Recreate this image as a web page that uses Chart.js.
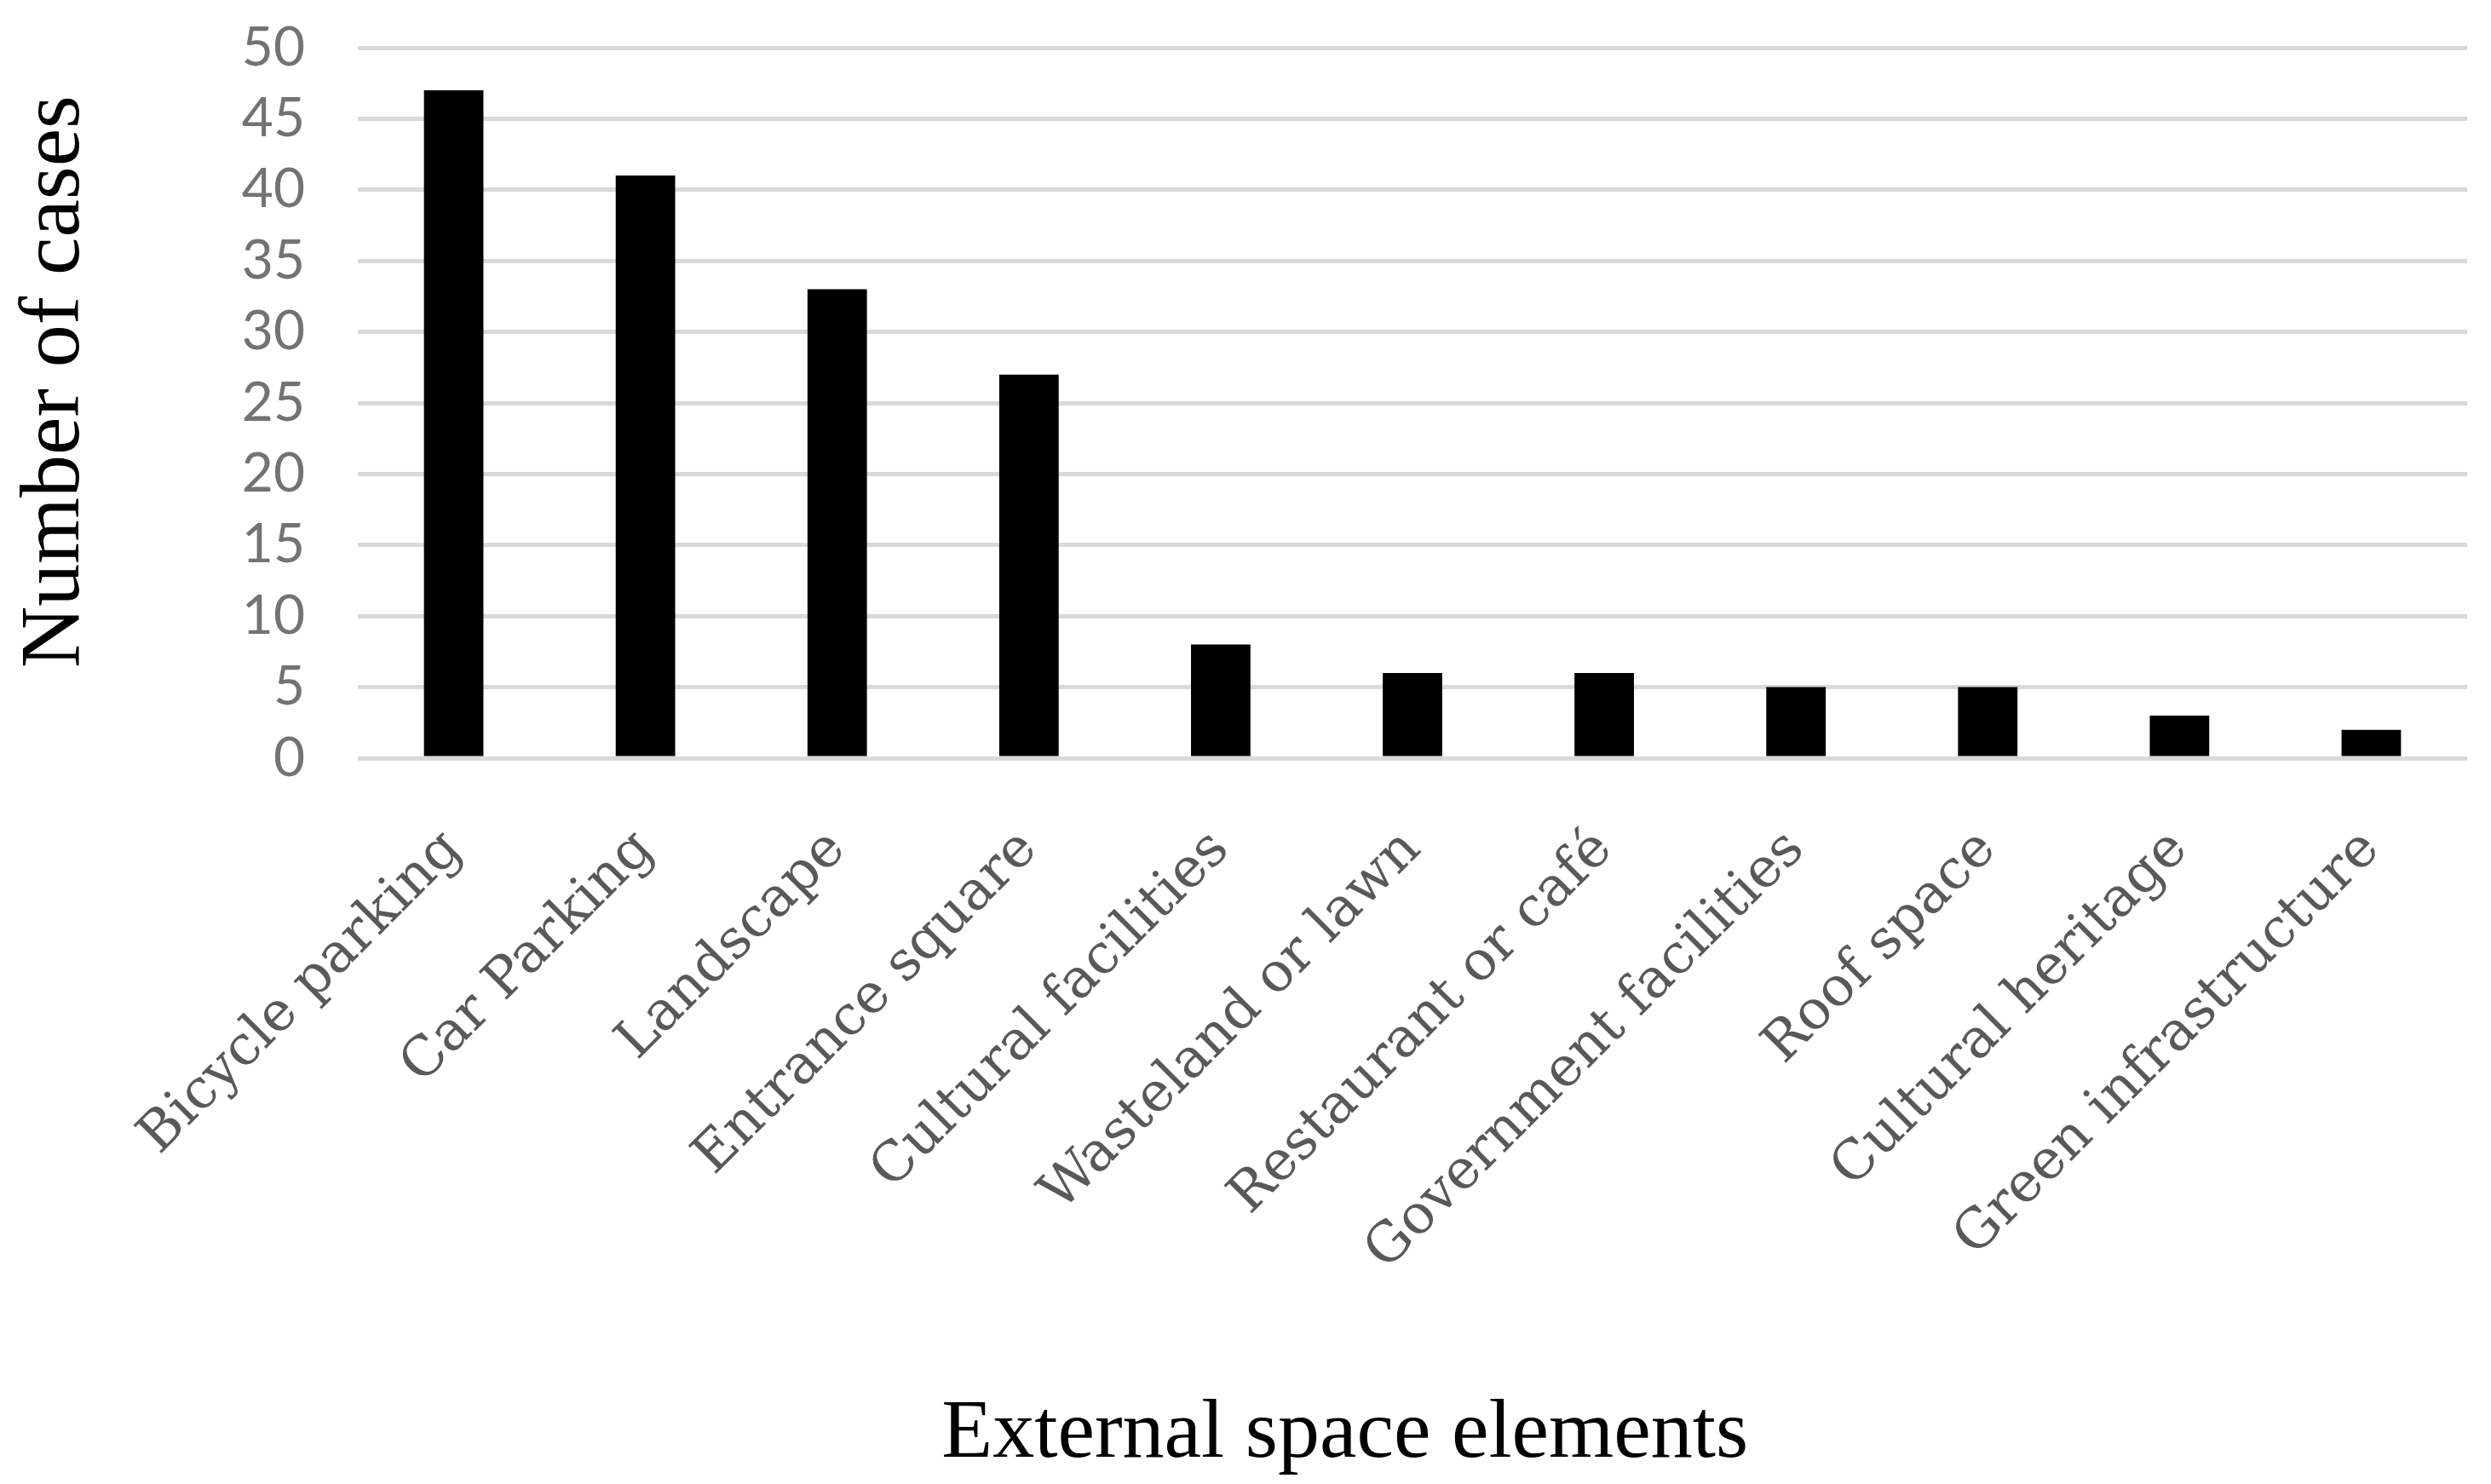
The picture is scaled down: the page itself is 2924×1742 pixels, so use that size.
<!DOCTYPE html>
<html>
<head>
<meta charset="utf-8">
<script src="https://cdn.jsdelivr.net/npm/chart.js@4.4.1/dist/chart.umd.min.js"></script>
<style>
  html, body { margin: 0; padding: 0; background: #fff; }
  #wrap { width: 2924px; height: 1742px; }
</style>
</head>
<body>
<div id="wrap"><canvas id="chart" width="2924" height="1742"></canvas></div>
<script>
// categories and values
const categories = [
    'Bicycle parking', 'Car Parking', 'Landscape', 'Entrance square',
    'Cultural facilities', 'Wasteland or lawn', 'Restaurant or café',
    'Government facilities', 'Roof space', 'Cultural heritage', 'Green infrastructure'
];
const cases = [47, 41, 33, 27, 8, 6, 6, 5, 5, 3, 2];
const yTicks = [0, 5, 10, 15, 20, 25, 30, 35, 40, 45, 50];
const xTitle = 'External space elements';
const yTitle = 'Number of cases';

// axis titles sit a bit off the plot centre in the original, so draw them here
const axisTitles = {
    id: 'axisTitles',
    afterDraw(chart) {
        const c = chart.ctx;
        const area = chart.chartArea;
        c.save();
        c.fillStyle = '#000000';
        c.textAlign = 'center';
        c.textBaseline = 'middle';
        c.font = '98px "Liberation Serif"';
        c.fillText(xTitle, area.left + (area.right - area.left) * 0.468, 1684);
        c.translate(66, area.top + (area.bottom - area.top) * 0.47);
        c.rotate(-Math.PI / 2);
        c.font = '100px "Liberation Serif"';
        c.fillText(yTitle, 0, 0);
        c.restore();
    }
};

const ctx = document.getElementById('chart').getContext('2d');
const chart = new Chart(ctx, {
    type: 'bar',
    data: {
        labels: categories,
        datasets: [{
            label: 'Number of cases',
            data: cases,
            backgroundColor: '#000000',
            borderWidth: 0,
            barPercentage: 0.31,
            categoryPercentage: 1.0
        }]
    },
    plugins: [axisTitles],
    options: {
        responsive: false,
        animation: false,
        layout: {
            padding: { top: 56, right: 28, bottom: 0, left: 0 }
        },
        plugins: {
            legend: { display: false },
            tooltip: { enabled: false }
        },
        scales: {
            x: {
                grid: { display: false, drawTicks: false },
                border: { display: false },
                ticks: {
                    autoSkip: false,
                    maxRotation: 45,
                    minRotation: 45,
                    padding: 70,
                    color: '#595959',
                    font: { family: 'DejaVu Serif', size: 64 }
                },
                afterFit: function(scale) {
                    scale.height = 852;
                }
            },
            y: {
                min: 0,
                max: 50,
                afterBuildTicks: function(scale) {
                    scale.ticks = yTicks.map(v => ({ value: v }));
                },
                grid: {
                    color: '#d9d9d9',
                    lineWidth: 5,
                    drawTicks: false
                },
                border: { display: false },
                ticks: {
                    padding: 62,
                    color: '#737373',
                    font: { family: 'Lato', size: 64 }
                },
                afterFit: function(scale) {
                    scale.width = 420;
                    // the label padding would otherwise push the plot top down
                    scale.paddingTop = 0;
                    scale.paddingBottom = 0;
                }
            }
        }
    }
});
</script>
</body>
</html>
